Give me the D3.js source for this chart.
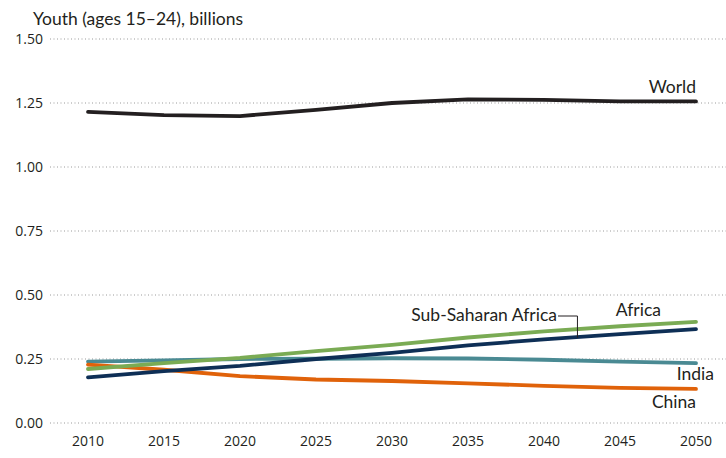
<!DOCTYPE html>
<html><head><meta charset="utf-8">
<script src="https://cdn.jsdelivr.net/npm/d3@7"></script>
<style>
body{margin:0;background:#fff;}
text{font-family:"Liberation Sans Narrow","Open Sans",sans-serif;fill:#231f20;}
.lab{font-family:Lato,"Noto Sans",sans-serif;}
</style></head>
<body><svg id="c" width="726" height="458"></svg>
<script>
const years = [2010,2015,2020,2025,2030,2035,2040,2045,2050];
const yTicks = [0,0.25,0.5,0.75,1.0,1.25,1.5];
const world = [1.215,1.203,1.199,1.223,1.250,1.264,1.262,1.256,1.256];
const africa = [0.211,0.234,0.254,0.281,0.305,0.334,0.358,0.378,0.395];
const ssa = [0.178,0.203,0.223,0.250,0.274,0.303,0.327,0.347,0.367];
const india = [0.240,0.245,0.250,0.251,0.253,0.252,0.247,0.240,0.234];
const china = [0.228,0.208,0.183,0.170,0.164,0.155,0.145,0.137,0.133];
const series = [
  {name:"India", values:india, color:"#4a8a93"},
  {name:"China", values:china, color:"#e0620a"},
  {name:"Sub-Saharan Africa", values:ssa, color:"#0e2f56"},
  {name:"Africa", values:africa, color:"#7aab54"},
  {name:"World", values:world, color:"#231f20"}
];
const svg = d3.select("#c");
const x = d3.scaleLinear().domain([2010,2050]).range([88,696]);
const y = d3.scaleLinear().domain([0,1.5]).range([423,39]);

svg.append("text").attr("class","lab").attr("x",33).attr("y",25).attr("font-size",17.5)
  .text("Youth (ages 15–24), billions");

const ya = svg.append("g");
yTicks.forEach(t=>{
  ya.append("line").attr("x1",50).attr("x2",726).attr("y1",y(t)).attr("y2",y(t))
    .attr("stroke","#9a9a9a").attr("stroke-width",1).attr("stroke-dasharray","1,2.5");
  ya.append("text").attr("x",43).attr("y",y(t)).attr("dy","0.35em")
    .attr("text-anchor","end").attr("font-size",14).text(t.toFixed(2));
});
years.forEach(yr=>{
  svg.append("text").attr("x",x(yr)).attr("y",446).attr("text-anchor","middle")
    .attr("font-size",14).text(yr);
});

const line = d3.line().x((d,i)=>x(years[i])).y(d=>y(d));
series.forEach(s=>{
  svg.append("path").attr("d",line(s.values)).attr("fill","none")
    .attr("stroke",s.color).attr("stroke-width",3.8).attr("stroke-linecap","round")
    .attr("stroke-linejoin","round");
});

const lbl = (t,xx,yy,anchor)=>svg.append("text").attr("class","lab").attr("x",xx).attr("y",yy)
  .attr("text-anchor",anchor).attr("font-size",17.5).text(t);
lbl("World",x(2050),y(1.256)-8,"end");
lbl("Africa",x(2050)-35,y(0.395)-6,"end");
lbl("India",x(2050)+18,y(0.234)+17,"end");
lbl("China",x(2050),y(0.133)+19,"end");
lbl("Sub-Saharan Africa",557,321,"end");
const lx = x(2042.2);
svg.append("path").attr("d",`M558,316 H${lx} V${y(0.333)}`)
  .attr("fill","none").attr("stroke","#231f20").attr("stroke-width",1);
</script></body></html>
